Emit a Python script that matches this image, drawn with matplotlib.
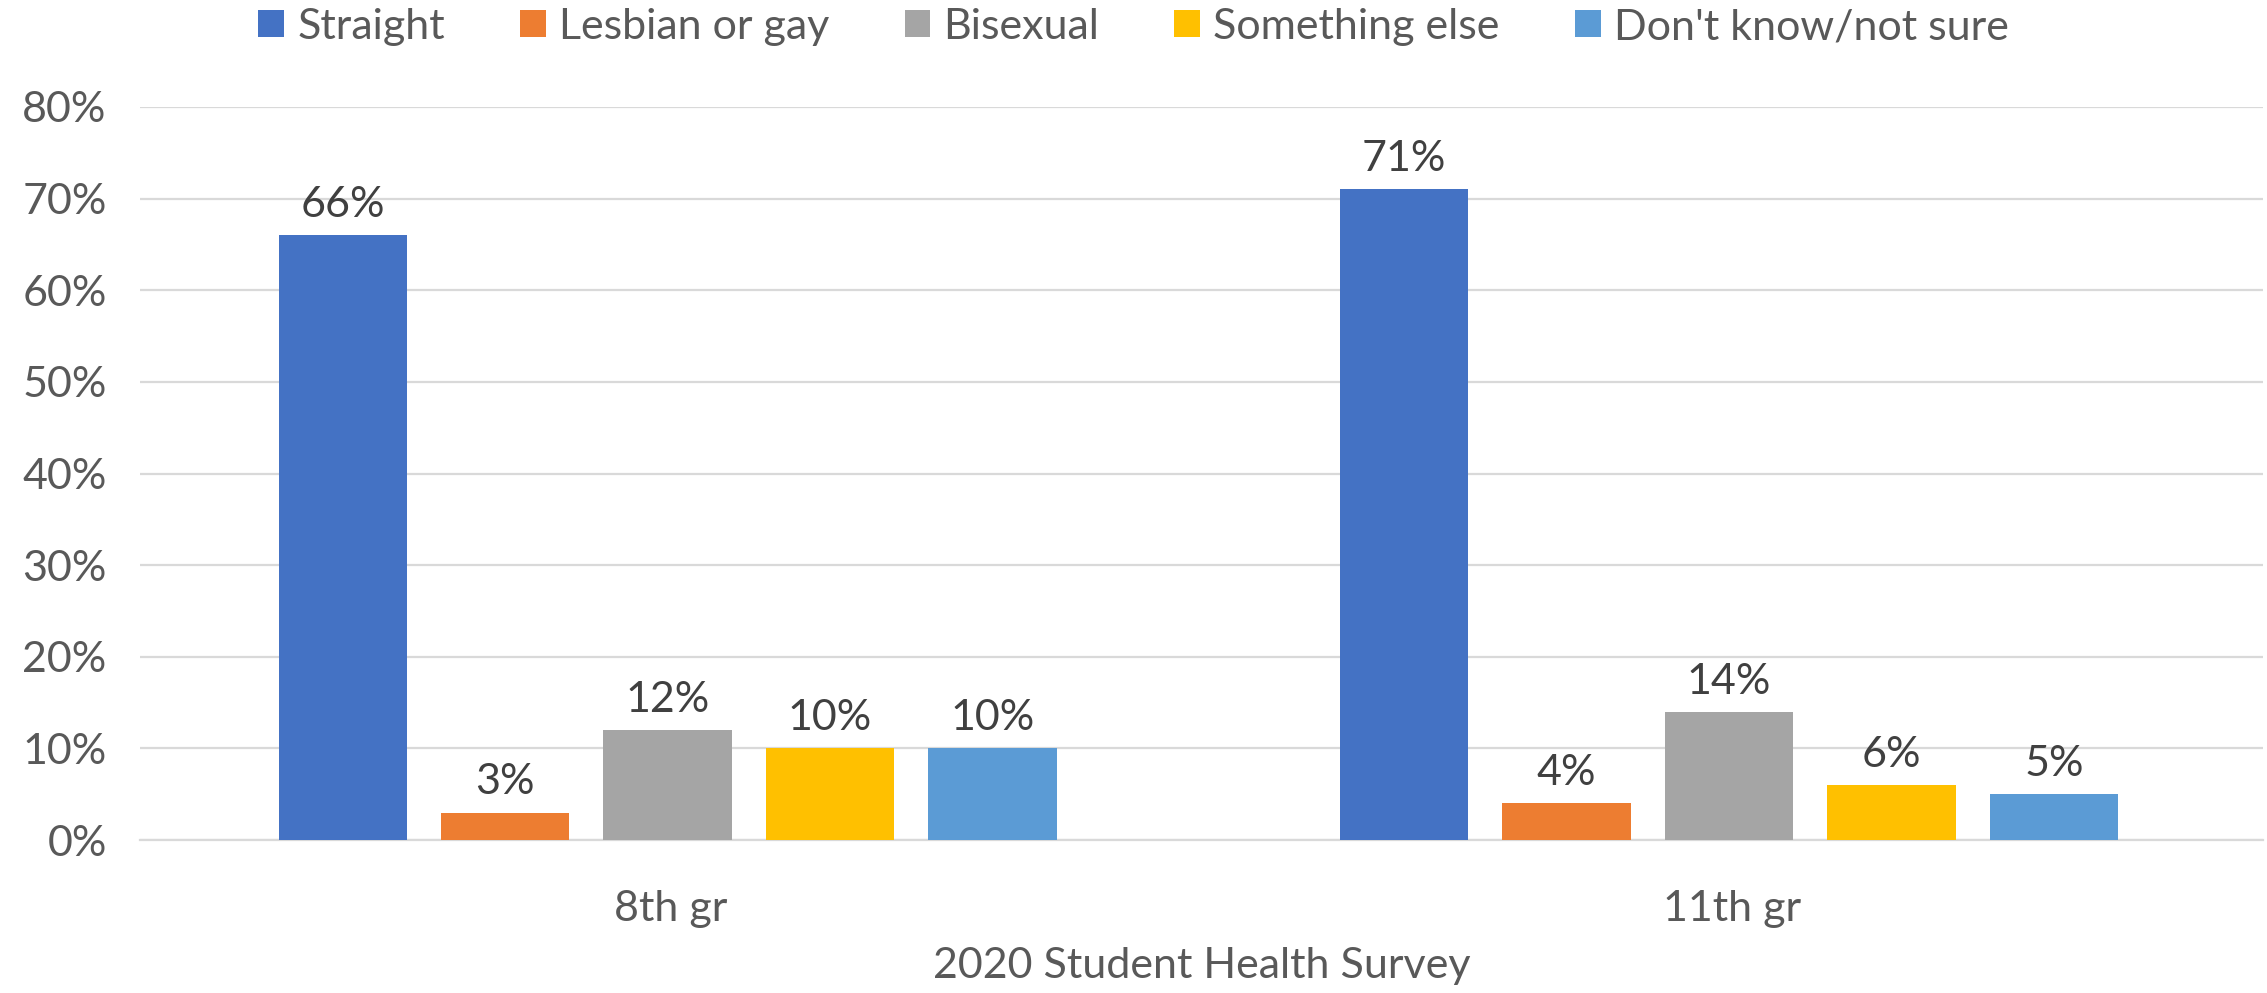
import matplotlib
matplotlib.use("Agg")
import matplotlib.pyplot as plt
from matplotlib.patches import Patch
import numpy as np

categories = ["8th gr", "11th gr"]
series = ["Straight", "Lesbian or gay", "Bisexual", "Something else", "Don't know/not sure"]
values = {
    "Straight": [66, 71],
    "Lesbian or gay": [3, 4],
    "Bisexual": [12, 14],
    "Something else": [10, 6],
    "Don't know/not sure": [10, 5],
}
colors = ["#4472C4", "#ED7D31", "#A5A5A5", "#FFC000", "#5B9BD5"]
yticks = [0, 10, 20, 30, 40, 50, 60, 70, 80]
xlabel = "2020 Student Health Survey"

plt.rcParams['font.family'] = ['Lato', 'DejaVu Sans']
FS = 31

W, H = 2267, 993
fig = plt.figure(figsize=(W / 100, H / 100), dpi=100)
ax = fig.add_axes([140 / W, 1 - 840 / H, (2263 - 140) / W, (840 - 107) / H])

x = np.arange(len(categories))
bw = 0.121
step = 0.153
for i, s in enumerate(series):
    pos = x + (i - 2) * step - 0.003
    bars = ax.bar(pos, values[s], width=bw, color=colors[i], zorder=3, label=s)
    for b, v in zip(bars, values[s]):
        ax.annotate(f"{v}%", (b.get_x() + b.get_width() / 2, v), xytext=(0, 8),
                    textcoords="offset points", ha="center", va="bottom",
                    fontsize=FS, color="#404040")

ax.set_xlim(-0.5, 1.5)
ax.set_ylim(0, 80)
ax.set_yticks(yticks)
ax.set_yticklabels([f"{t}%" for t in yticks])
ax.set_xticks(x)
ax.set_xticklabels(categories)
ax.grid(axis="y", color="#d9d9d9", linewidth=1.6, zorder=0)
for sp in ["top", "right", "left"]:
    ax.spines[sp].set_visible(False)
ax.spines["bottom"].set_color("#d9d9d9")
ax.spines["bottom"].set_linewidth(1.6)
ax.tick_params(axis="both", length=0, labelsize=FS, labelcolor="#595959")
ax.tick_params(axis="x", pad=36)
ax.tick_params(axis="y", pad=24)
ax.set_xlabel(xlabel, fontsize=FS, color="#595959", labelpad=14)

handles = [Patch(facecolor=c, edgecolor="none") for c in colors]
fig.legend(handles, series, loc="center", bbox_to_anchor=(0.5, 1 - 27 / H), ncol=5,
           frameon=False, fontsize=FS, labelcolor="#595959", handlelength=0.6,
           handleheight=0.6, handletextpad=0.3, columnspacing=1.75)

fig.savefig("out.png", dpi=100)
